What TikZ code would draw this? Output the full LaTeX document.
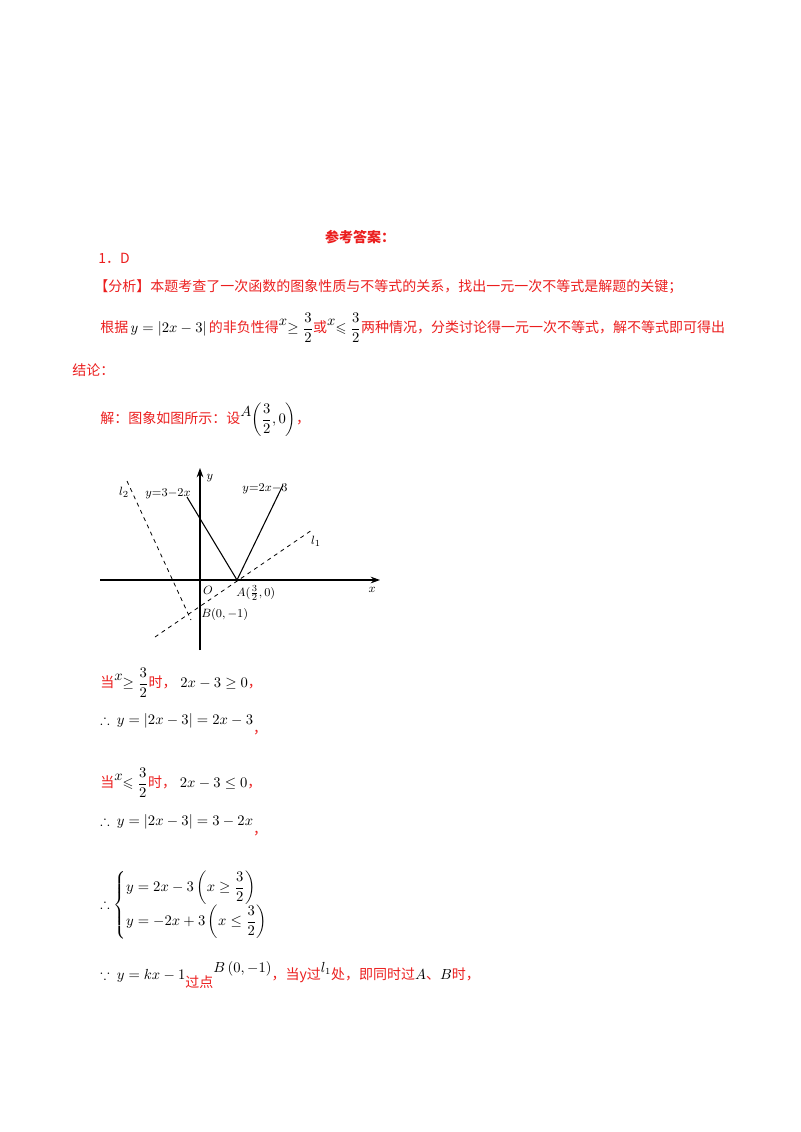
\documentclass[tikz,border=0pt]{standalone}
\usepackage{fontspec}
\usepackage{amsmath,amssymb}
\newfontfamily\cjk{Noto Sans CJK SC}
\usetikzlibrary{arrows.meta}
\definecolor{rd}{RGB}{235,30,30}
\newcommand{\up}[1]{\raisebox{0.9ex}{\textcolor{black}{#1}}}
\tikzset{txt/.style={anchor=west,inner sep=0pt,font=\cjk\fontsize{10.5}{12}\selectfont,text=rd},
 ax/.style={-{Stealth[length=7pt,width=5pt]},line width=0.8pt},
 dsh/.style={dashed,line width=0.6pt},
 lab/.style={inner sep=0pt,font=\fontsize{9.5}{11}\selectfont}}
\begin{document}
\begin{tikzpicture}[x=0.75pt,y=-0.75pt]
\useasboundingbox (0,0) rectangle (800,1132);
\node[txt,anchor=center,font=\cjk\bfseries\fontsize{10.5}{12}\selectfont] (h) at (360,237) {参考答案：};
\node[txt] (a1) at (98,258) {1．D};
\node[txt] (a2) at (94,287) {【分析】本题考查了一次函数的图象性质与不等式的关系，找出一元一次不等式是解题的关键；};
\node[txt] (a3) at (100,328) {根据\,\textcolor{black}{$y=\left|2x-3\right|$}\,的非负性得\up{$x$}\textcolor{black}{$\geq\dfrac{3}{2}$}或\up{$x$}\textcolor{black}{$\leqslant\dfrac{3}{2}$}两种情况，分类讨论得一元一次不等式，解不等式即可得出};
\node[txt] (a4) at (72,370) {结论：};
\node[txt] (a5) at (100,420) {解：图象如图所示：设\up{$A$}\textcolor{black}{$\left(\dfrac{3}{2},0\right)$}，};
% graph
\coordinate (O) at (200,580);
\coordinate (A) at (237,580);
\coordinate (B) at (200,605);
\draw[ax] (100,580) -- (380,580);
\draw[ax] (200,650) -- (200,468);
\draw[line width=0.8pt] (187,497) -- (A) -- (283,485);
\draw[dsh] (155,637) -- (312,530);
\draw[dsh] (127,481) -- (191,620);
\node[lab] (ly) at (210,478) {$y$};
\node[lab] (lx) at (372,590) {$x$};
\node[lab] (lO) at (208,590) {$O$};
\node[lab,anchor=west] (lA) at (236,593) {$A(\frac{3}{2},0)$};
\node[lab,anchor=west] (lB) at (201,614) {$B(0,-1)$};
\node[lab] (l2) at (124,492) {$l_2$};
\node[lab] (l1) at (316,541) {$l_1$};
\node[lab] (f1) at (168,494) {$y{=}3{-}2x$};
\node[lab] (f2) at (265,489) {$y{=}2x{-}3$};
% rest
\node[txt] (b1) at (100,683) {当\up{$x$}\textcolor{black}{$\geq\dfrac{3}{2}$}时，\;\textcolor{black}{$2x-3\geq0$}，};
\node[txt] (b2) at (100,724) {\textcolor{black}{$\therefore\ y=\left|2x-3\right|=2x-3$}\raisebox{-1.2ex}{，}};
\node[txt] (b3) at (100,783) {当\up{$x$}\textcolor{black}{$\leqslant\dfrac{3}{2}$}时，\;\textcolor{black}{$2x-3\leq0$}，};
\node[txt] (b4) at (100,825) {\textcolor{black}{$\therefore\ y=\left|2x-3\right|=3-2x$}\raisebox{-1.2ex}{，}};
\node[txt] (b5) at (100,905) {\textcolor{black}{$\therefore\begin{cases}y=2x-3\left(x\geq\dfrac{3}{2}\right)\\[4pt] y=-2x+3\left(x\leq\dfrac{3}{2}\right)\end{cases}$}};
\node[txt] (b6) at (100,975) {\textcolor{black}{$\because\ y=kx-1$}\raisebox{-1ex}{过点}\up{$B\left(0,-1\right)$}，当y过\up{$l_1$}处，即同时过\textcolor{black}{$A$}、\textcolor{black}{$B$}时，};
\end{tikzpicture}
\end{document}
